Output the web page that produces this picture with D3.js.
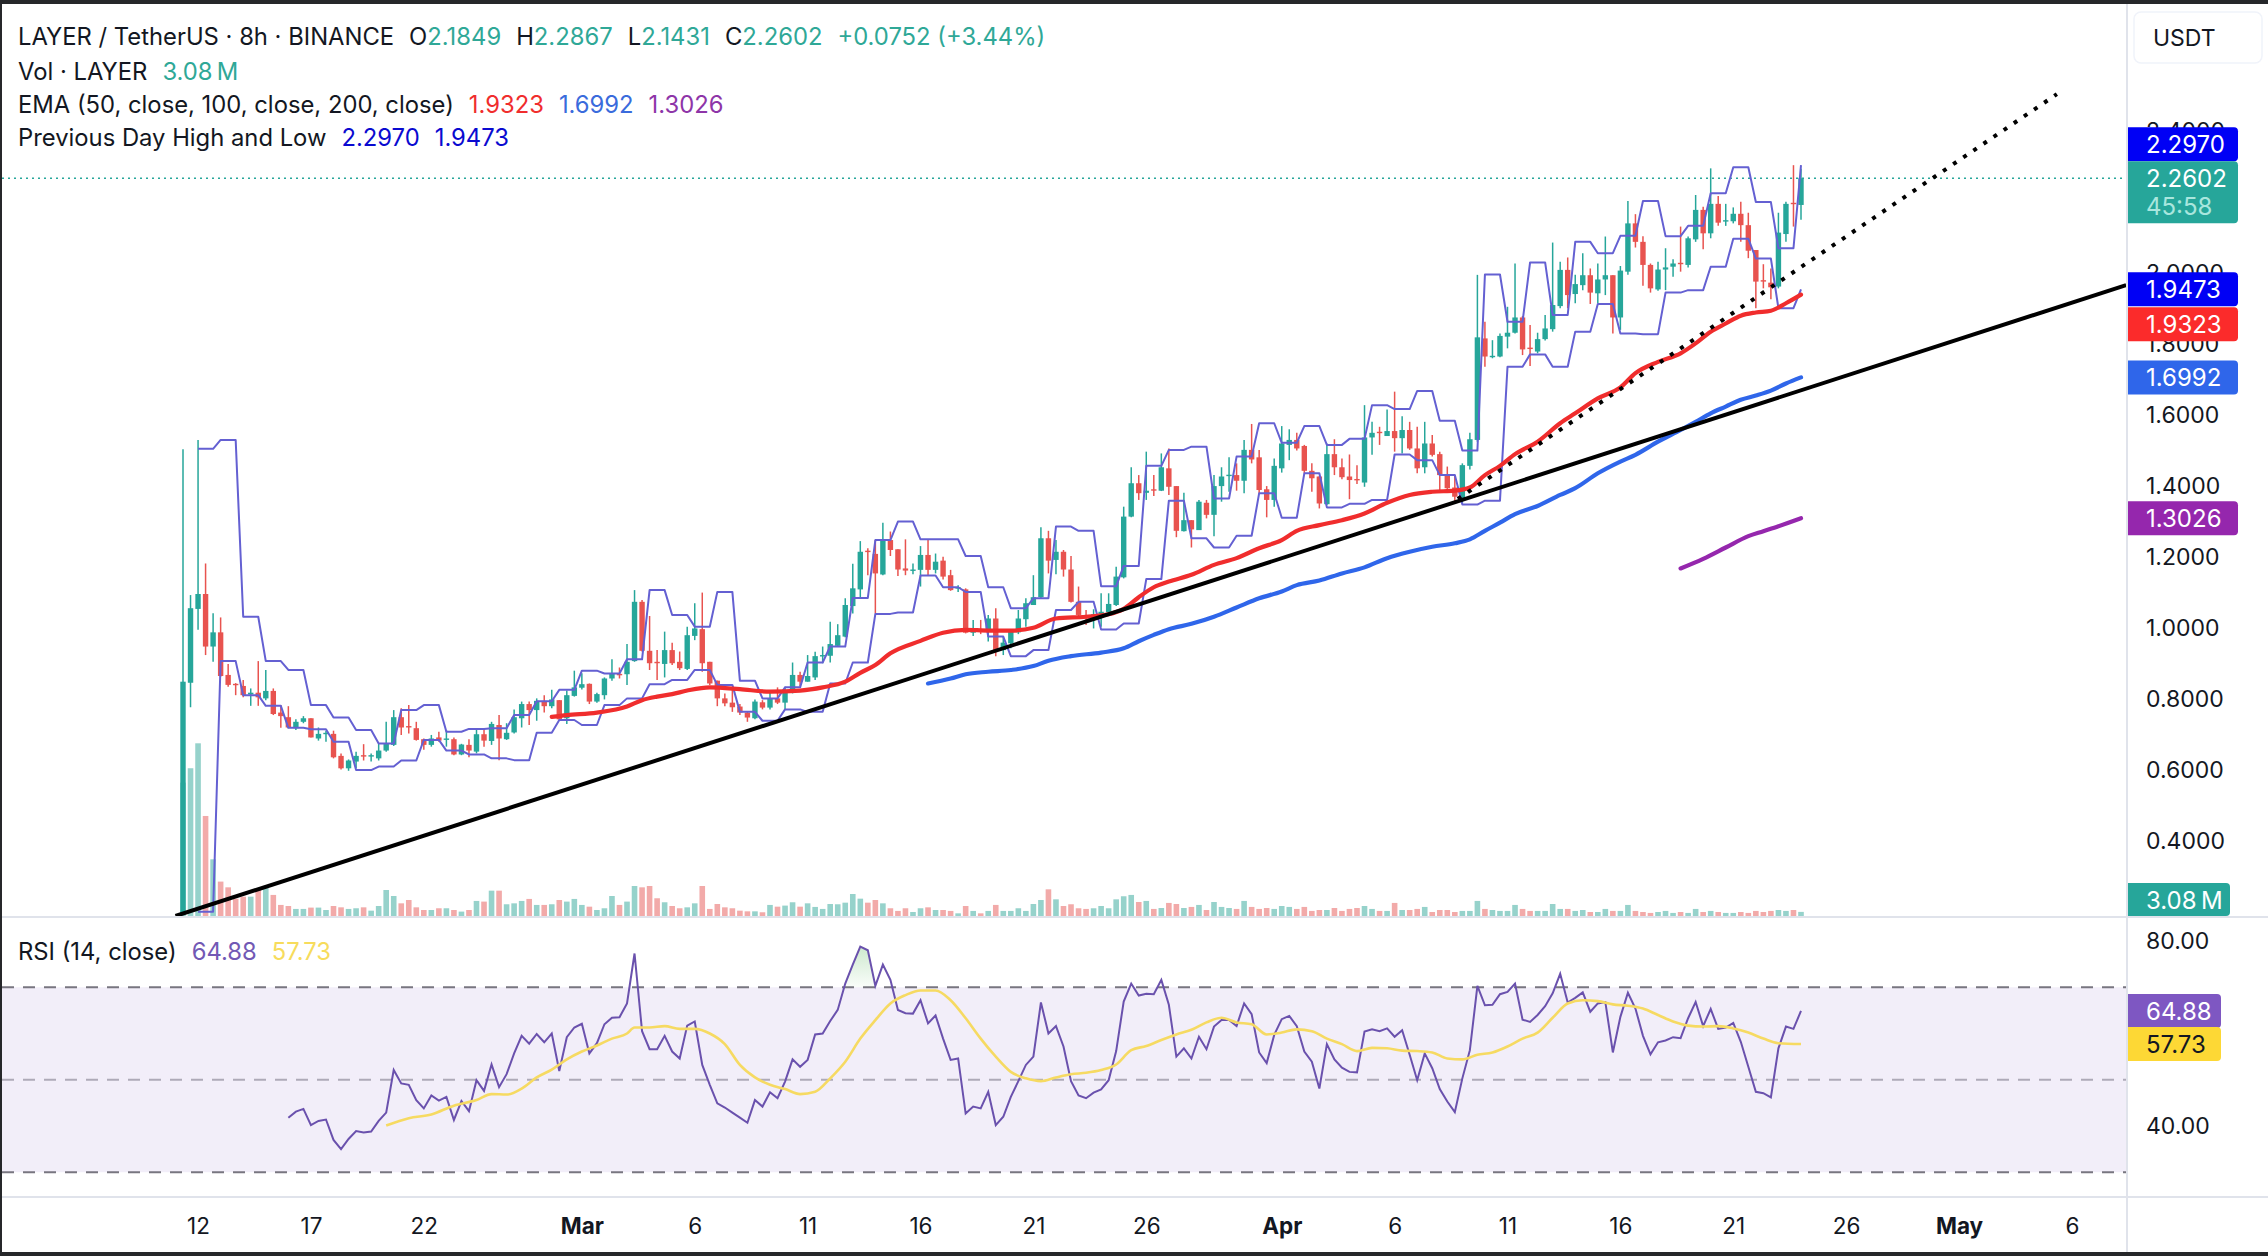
<!DOCTYPE html>
<html>
<head>
<meta charset="utf-8">
<title>LAYER / TetherUS</title>
<script src="https://cdn.jsdelivr.net/npm/d3@7/dist/d3.min.js"></script>
<style>
html, body { margin: 0; padding: 0; background: #fff; }
svg { display: block; }
text { font-family: Inter, "Noto Sans", sans-serif; fill: #131722; }
</style>
</head>
<body>
<div id="chart"></div>
<script>
// page size
var width = 2268,
    height = 1256;

// candles, 8h bars, index 0 is Feb 11 08:00
var opens = [
  .19, .839, 1.047, 1.089, .941, .981, .861, .836, .830, .806,
  .811, .795, .816, .755, .742, .711, .729, .739, .682, .696,
  .695, .633, .598, .617, .635, .631, .626, .648, .664, .742,
  .717, .711, .680, .664, .685, .680, .680, .637, .664, .645,
  .694, .675, .720, .680, .699, .739, .779, .762, .788, .773,
  .790, .739, .802, .825, .836, .786, .804, .851, .864, .863,
  .900, 1.067, .929, .898, .892, .931, .898, .878, .971, .990,
  .898, .845, .795, .783, .772, .755, .739, .784, .769, .795,
  .783, .814, .861, .842, .854, .913, .915, .943, .969, 1.055,
  1.102, 1.211, 1.202, 1.144, 1.241, 1.215, 1.161, 1.155, 1.157, 1.199,
  1.157, 1.183, 1.142, 1.104, 1.102, .980, .990, .983, 1.020, .931,
  .950, .981, 1.018, 1.058, 1.080, 1.246, 1.185, 1.208, 1.158, 1.067,
  1.030, 1.018, 1.025, 1.038, 1.058, 1.136, 1.307, 1.401, 1.374, 1.384,
  1.380, 1.443, 1.393, 1.266, 1.297, 1.269, 1.346, 1.312, 1.393, 1.423,
  1.424, 1.408, 1.495, 1.474, 1.384, 1.354, 1.443, 1.509, 1.523, 1.506,
  1.436, 1.420, 1.342, 1.483, 1.446, 1.420, 1.413, 1.403, 1.530, 1.546,
  1.534, 1.548, 1.528, 1.551, 1.499, 1.446, 1.513, 1.483, 1.427, 1.389,
  1.358, 1.450, 1.523, 1.809, 1.756, 1.758, 1.814, 1.825, 1.868, 1.783,
  1.772, 1.807, 1.835, 1.900, 2.002, 1.934, 1.959, 1.987, 1.936, 1.975,
  1.987, 1.868, 1.997, 2.133, 2.081, 2.016, 1.947, 2.003, 2.011, 2.022,
  2.016, 2.088, 2.171, 2.105, 2.188, 2.139, 2.139, 2.160, 2.128, 2.058,
  1.973, 1.966, 1.955, 2.103, 2.191, 2.1849
];
var highs = [
  1.497, 1.086, 1.523, 1.175, 1.035, 1.023, .892, .838, .847, .823,
  .900, .875, .823, .776, .773, .736, .745, .739, .713, .704,
  .704, .640, .623, .645, .666, .640, .668, .729, .762, .767,
  .776, .729, .682, .692, .701, .706, .685, .667, .680, .706,
  .711, .729, .748, .725, .764, .786, .786, .795, .804, .819,
  .790, .817, .873, .866, .837, .811, .854, .905, .882, .948,
  1.100, 1.072, 1.027, .931, .983, .952, .927, .997, 1.063, 1.093,
  .898, .845, .809, .823, .779, .757, .792, .790, .817, .826,
  .828, .896, .870, .917, .926, .941, 1.011, 1.004, 1.077, 1.174,
  1.238, 1.218, 1.241, 1.290, 1.265, 1.215, 1.243, 1.175, 1.224, 1.241,
  1.203, 1.194, 1.157, 1.114, 1.105, 1.016, 1.016, 1.030, 1.049, .969,
  .987, 1.044, 1.077, 1.142, 1.277, 1.267, 1.241, 1.213, 1.196, 1.110,
  1.044, 1.046, 1.091, 1.091, 1.166, 1.335, 1.446, 1.424, 1.490, 1.424,
  1.485, 1.499, 1.393, 1.374, 1.297, 1.354, 1.354, 1.424, 1.446, 1.474,
  1.457, 1.523, 1.568, 1.495, 1.393, 1.471, 1.562, 1.553, 1.543, 1.509,
  1.457, 1.421, 1.513, 1.525, 1.471, 1.482, 1.452, 1.621, 1.574, 1.560,
  1.609, 1.659, 1.590, 1.574, 1.560, 1.574, 1.537, 1.490, 1.448, 1.424,
  1.457, 1.543, 1.988, 1.856, 1.804, 1.823, 1.898, 2.020, 1.872, 1.847,
  1.825, 1.875, 2.079, 2.025, 2.037, 1.988, 2.049, 2.006, 2.020, 2.096,
  1.987, 2.013, 2.196, 2.159, 2.097, 2.020, 2.025, 2.063, 2.032, 2.124,
  2.096, 2.213, 2.180, 2.288, 2.210, 2.188, 2.178, 2.194, 2.163, 2.058,
  2.018, 2.006, 2.163, 2.194, 2.297, 2.2867
];
var lows = [
  .185, .770, .988, .917, .898, .856, .828, .804, .798, .774,
  .774, .790, .748, .712, .711, .706, .725, .685, .676, .673,
  .626, .595, .591, .598, .620, .617, .620, .645, .661, .692,
  .696, .676, .650, .659, .673, .659, .635, .635, .629, .640,
  .659, .664, .621, .678, .696, .713, .720, .732, .755, .767,
  .734, .723, .800, .820, .779, .783, .792, .845, .851, .833,
  .898, .927, .875, .847, .854, .889, .875, .875, .959, .870,
  .833, .773, .773, .757, .748, .729, .736, .764, .764, .779,
  .762, .809, .830, .842, .847, .894, .896, .942, .967, 1.034,
  1.077, 1.142, 1.034, 1.142, 1.196, 1.140, 1.142, 1.145, 1.110, 1.140,
  1.147, 1.130, 1.098, 1.095, .978, .971, .976, .955, .914, .917,
  .936, .976, .997, 1.058, 1.077, 1.147, 1.145, 1.138, 1.065, 1.020,
  1.002, .992, .997, 1.036, 1.055, 1.133, 1.305, 1.354, 1.354, 1.365,
  1.379, 1.368, 1.249, 1.265, 1.220, 1.269, 1.302, 1.252, 1.349, 1.377,
  1.380, 1.373, 1.457, 1.373, 1.305, 1.335, 1.431, 1.466, 1.493, 1.429,
  1.377, 1.330, 1.340, 1.424, 1.412, 1.356, 1.399, 1.391, 1.481, 1.509,
  1.534, 1.490, 1.485, 1.495, 1.429, 1.429, 1.476, 1.382, 1.377, 1.343,
  1.344, 1.440, 1.518, 1.729, 1.753, 1.756, 1.781, 1.823, 1.762, 1.731,
  1.767, 1.803, 1.828, 1.894, 1.894, 1.908, 1.945, 1.906, 1.908, 1.931,
  1.823, 1.833, 1.988, 2.065, 1.957, 1.938, 1.943, 1.945, 1.983, 1.997,
  2.009, 2.081, 2.060, 2.091, 2.126, 2.126, 2.133, 2.081, 2.035, 1.894,
  1.950, 1.919, 1.950, 2.081, 2.124, 2.1431
];
var closes = [
  .842, 1.049, 1.089, .941, .981, .858, .833, .833, .804, .811,
  .798, .816, .751, .745, .713, .729, .739, .685, .695, .698,
  .629, .598, .620, .633, .631, .635, .648, .667, .742, .713,
  .713, .678, .664, .682, .676, .682, .637, .665, .648, .694,
  .676, .723, .682, .698, .742, .779, .762, .788, .773, .792,
  .736, .804, .826, .835, .786, .807, .851, .864, .860, .898,
  1.067, .929, .894, .894, .931, .894, .880, .973, .992, .894,
  .837, .795, .781, .770, .755, .741, .786, .769, .795, .783,
  .817, .861, .842, .858, .914, .917, .948, .973, 1.058, 1.105,
  1.208, 1.207, 1.147, 1.241, 1.213, 1.158, 1.155, 1.158, 1.199, 1.157,
  1.180, 1.138, 1.100, 1.108, .980, .989, .988, 1.020, .929, .952,
  .983, 1.020, 1.063, 1.080, 1.246, 1.183, 1.208, 1.158, 1.067, 1.030,
  1.023, 1.032, 1.039, 1.061, 1.138, 1.307, 1.401, 1.373, 1.380, 1.382,
  1.446, 1.391, 1.267, 1.297, 1.271, 1.349, 1.312, 1.393, 1.420, 1.425,
  1.408, 1.495, 1.468, 1.382, 1.354, 1.450, 1.513, 1.523, 1.499, 1.436,
  1.415, 1.344, 1.483, 1.446, 1.418, 1.410, 1.410, 1.530, 1.543, 1.543,
  1.548, 1.528, 1.551, 1.499, 1.443, 1.513, 1.481, 1.424, 1.387, 1.363,
  1.452, 1.525, 1.812, 1.758, 1.760, 1.816, 1.825, 1.868, 1.778, 1.781,
  1.807, 1.837, 1.903, 2.002, 1.931, 1.962, 1.987, 1.938, 1.975, 1.987,
  1.868, 2.000, 2.133, 2.081, 2.016, 1.950, 2.003, 2.009, 2.020, 2.018,
  2.091, 2.171, 2.105, 2.188, 2.135, 2.142, 2.160, 2.128, 2.056, 1.969,
  1.969, 1.953, 2.107, 2.188, 2.188, 2.2602
];
// volume in millions
var volumes = [
  100, 110.8, 129.5, 75, 42.5, 25.8, 21.5, 13, 14.5, 14.5,
  20.8, 21.5, 15.8, 8.3, 7.5, 5.3, 5.3, 6.3, 6.3, 4.5,
  7.5, 6.5, 5.3, 5.8, 6.5, 4, 7.5, 19.5, 15, 9.5,
  12, 6.5, 4.5, 4.5, 5.8, 5.8, 4.5, 3.3, 4.5, 11.3,
  10.8, 19, 19, 8.8, 9.5, 11.3, 12.8, 8.3, 8.3, 8.8,
  12, 10.8, 12.8, 8.3, 7, 4.5, 5.8, 15, 8.3, 10.8,
  22.5, 21.5, 22.5, 13.3, 10.3, 7.5, 5.8, 6.5, 9.5, 22.5,
  5.3, 9, 6.5, 5.8, 4, 3.5, 3.5, 2.8, 8.3, 7,
  7.8, 10.3, 7, 9.5, 6.8, 5.3, 9, 8.8, 10, 16.5,
  13, 10, 12, 9.5, 5.8, 3.8, 5.8, 3, 5.8, 6.5,
  4.5, 4.5, 3.8, 2, 7.5, 3.8, 2, 3.8, 8.3, 3.8,
  3.8, 5.8, 3.8, 9, 12, 20, 12.5, 7.5, 8.8, 5.8,
  5.3, 5.8, 7.5, 5.8, 12.5, 14.8, 15.8, 10.5, 11.3, 5.3,
  6, 9.8, 9, 6, 6.8, 8.3, 4.5, 10.5, 6.8, 6,
  5.3, 11.3, 6.8, 5.3, 6, 5.3, 7.5, 6.8, 5.3, 6.8,
  3.8, 4.5, 4.5, 6, 3.8, 5.3, 6, 7.5, 5.3, 3.8,
  3.8, 9.8, 4.5, 4.5, 5.3, 6.8, 3, 4.5, 4.5, 3,
  3.8, 3.8, 11.3, 5.3, 4.5, 3.8, 3.8, 8.3, 5.3, 3.8,
  3.8, 3.8, 9, 5.3, 5.3, 3.8, 4.5, 3, 3, 5.3,
  3.8, 3.8, 8.3, 3.8, 3, 2.3, 3, 3.8, 2.3, 3,
  2.3, 5.3, 3, 3.8, 3, 2.3, 2.3, 3, 2.3, 3.8,
  3, 3.8, 4.5, 3.8, 4.5, 3.08
];

// previous day high and low, one level per day, a day is 3 bars, first day starts at bar 2
var pdStartBar = 2;
var pdHighs = [
  1.498, 1.523, 1.025, .900, .875, .776, .741, .706, .668, .762,
  .776, .701, .709, .711, .748, .787, .819, .873, .865, .905,
  1.100, 1.030, .997, 1.095, .845, .795, .826, .896, .941, 1.078,
  1.241, 1.293, 1.243, 1.243, 1.196, 1.108, 1.049, 1.077, 1.279, 1.267,
  1.111, 1.168, 1.450, 1.495, 1.504, 1.358, 1.476, 1.570, 1.515, 1.562,
  1.509, 1.526, 1.621, 1.610, 1.661, 1.577, 1.493, 1.989, 1.856, 2.023,
  1.875, 2.081, 2.049, 2.098, 2.196, 2.097, 2.126, 2.218, 2.291, 2.193,
  2.063, 2.2970
];
var pdLows = [
  .194, .900, .804, .774, .712, .708, .673, .593, .603, .620,
  .678, .648, .637, .626, .621, .698, .734, .720, .776, .795,
  .835, .847, .875, .833, .757, .732, .764, .757, .837, .896,
  1.033, 1.037, 1.141, 1.108, 1.095, .969, .914, .931, 1.044, 1.067,
  .989, 1.006, 1.131, 1.352, 1.246, 1.220, 1.253, 1.373, 1.304, 1.429,
  1.333, 1.343, 1.354, 1.482, 1.466, 1.424, 1.341, 1.352, 1.729, 1.764,
  1.729, 1.828, 1.906, 1.823, 1.821, 1.938, 1.945, 2.011, 2.090, 2.034,
  1.894, 1.9473
];

var ema50Bars = [49, 51, 55, 59, 61, 63, 65, 67, 70, 74, 78, 82, 85, 88, 90, 92, 94, 98, 101, 104, 107, 110, 113, 116, 120, 123, 125, 127, 129, 131, 134, 137, 140, 143, 146, 148, 151, 154, 157, 160, 163, 166, 169, 171, 173, 175, 177, 180, 183, 185, 188, 191, 193, 196, 199, 201, 203, 205, 207, 209, 211, 213, 215];
var ema50Values = [.743, .748, .755, .772, .790, .800, .807, .817, .826, .821, .814, .817, .826, .842, .867, .889, .922, .957, .980, .988, .986, .986, .994, 1.020, 1.025, 1.032, 1.047, 1.080, 1.108, 1.124, 1.143, 1.171, 1.190, 1.218, 1.241, 1.267, 1.283, 1.297, 1.316, 1.346, 1.368, 1.377, 1.380, 1.389, 1.424, 1.450, 1.483, 1.518, 1.570, 1.598, 1.640, 1.671, 1.711, 1.743, 1.767, 1.795, 1.828, 1.851, 1.873, 1.882, 1.887, 1.908, 1.9323];
var ema100Bars = [99, 102, 104, 107, 110, 113, 115, 118, 122, 125, 127, 129, 131, 134, 137, 140, 143, 146, 148, 151, 154, 157, 160, 163, 166, 169, 171, 173, 175, 177, 180, 183, 185, 188, 191, 193, 196, 199, 201, 203, 205, 207, 209, 211, 213, 215];
var ema100Values = [.837, .851, .863, .870, .875, .886, .901, .914, .924, .936, .956, .974, .990, 1.005, 1.025, 1.051, 1.077, 1.096, 1.114, 1.127, 1.147, 1.164, 1.190, 1.208, 1.222, 1.232, 1.243, 1.267, 1.290, 1.314, 1.337, 1.368, 1.387, 1.429, 1.462, 1.481, 1.518, 1.551, 1.574, 1.598, 1.617, 1.636, 1.648, 1.662, 1.682, 1.6992];
var ema200Bars = [199, 202, 205, 208, 210, 212, 215];
var ema200Values = [1.161, 1.188, 1.220, 1.252, 1.266, 1.280, 1.3026];

// the two hand drawn lines, solid and dotted
var trendBars = [-1, 258.2];
var trendPrices = [.182, 1.959];
var dottedBars = [169.4, 249];
var dottedPrices = [1.357, 2.497];

// RSI from bar 14 on
var rsiStartBar = 14;
var rsiValues = [
  41.8, 43.1, 43.7, 40.2, 41.1, 41.4, 37.0, 35.0, 37.2, 38.9,
  38.6, 38.8, 41.1, 42.9, 52.1, 49.2, 48.9, 45.6, 43.8, 46.6,
  45.5, 46.3, 41.3, 45.4, 43.2, 49.9, 47.6, 53.3, 48.4, 51.2,
  55.7, 59.5, 57.8, 59.9, 58.1, 60.0, 51.9, 59.2, 61.3, 62.1,
  55.7, 57.9, 62.0, 63.4, 63.5, 66.5, 77.3, 60.5, 56.6, 56.6,
  59.5, 56.1, 54.6, 61.7, 62.6, 53.2, 48.9, 44.9, 44.0, 42.9,
  41.8, 40.7, 45.6, 44.2, 47.3, 46.0, 49.6, 54.4, 52.8, 54.3,
  59.8, 60.0, 62.7, 65.1, 70.8, 74.9, 78.8, 78.0, 70.3, 74.9,
  71.6, 65.1, 64.4, 64.3, 67.2, 62.2, 63.9, 58.9, 54.3, 54.6,
  42.7, 44.2, 43.8, 47.4, 40.2, 42.0, 46.3, 49.7, 53.2, 55.0,
  66.7, 60.0, 61.6, 57.2, 49.7, 46.6, 46.0, 47.2, 47.9, 49.9,
  56.2, 66.9, 70.8, 68.2, 68.6, 68.5, 71.6, 66.2, 55.0, 56.8,
  54.6, 59.3, 56.6, 61.5, 62.9, 62.9, 61.6, 66.5, 64.2, 55.9,
  53.6, 59.7, 63.1, 63.8, 61.6, 56.1, 53.9, 48.1, 57.7, 54.4,
  52.6, 51.7, 51.6, 60.4, 60.9, 60.5, 61.1, 59.3, 60.7, 55.4,
  49.9, 55.7, 52.5, 48.0, 45.3, 43.0, 50.3, 56.4, 70.3, 66.1,
  66.2, 68.5, 69.0, 70.8, 63.0, 62.5, 64.0, 65.9, 68.7, 72.9,
  66.7, 67.7, 68.9, 64.7, 66.5, 66.8, 55.9, 63.6, 68.8, 65.4,
  59.5, 55.5, 58.1, 58.5, 59.2, 59.0, 63.3, 66.8, 61.6, 65.3,
  61.0, 61.3, 62.3, 58.2, 52.8, 47.4, 47.1, 46.2, 56.8, 61.5,
  61.0, 64.88
];
var rsiMaBars = [27, 30, 33, 36, 39, 41, 43, 45, 47, 49, 51, 53, 55, 57, 59, 60, 62, 64, 66, 68, 70, 72, 74, 76, 78, 80, 82, 84, 86, 88, 90, 92, 94, 96, 98, 100, 102, 104, 106, 108, 110, 112, 114, 116, 118, 120, 122, 124, 126, 128, 130, 132, 134, 136, 138, 140, 142, 144, 146, 148, 150, 152, 154, 156, 158, 160, 162, 164, 166, 168, 170, 172, 174, 176, 178, 180, 182, 184, 186, 188, 190, 192, 194, 196, 198, 200, 202, 204, 206, 208, 210, 212, 215];
var rsiMaValues = [40.1, 41.7, 42.5, 44.4, 45.6, 46.9, 46.8, 48.1, 50.5, 52.2, 54.4, 56.1, 57.4, 58.9, 60.0, 61.3, 61.3, 61.6, 61.0, 61.0, 60.0, 57.7, 53.2, 50.5, 48.9, 48.0, 46.9, 47.4, 50.3, 53.9, 58.9, 62.9, 66.5, 68.3, 69.3, 69.3, 67.2, 63.3, 58.9, 55.0, 51.7, 50.3, 49.7, 50.5, 51.2, 51.5, 52.1, 53.3, 56.4, 57.3, 58.6, 59.8, 60.8, 62.4, 63.4, 62.4, 62.0, 59.8, 60.2, 60.9, 60.5, 58.9, 57.7, 56.2, 56.9, 56.8, 56.3, 56.2, 55.9, 54.6, 54.4, 55.4, 55.9, 57.2, 58.9, 60.2, 63.4, 66.5, 67.2, 67.0, 66.3, 66.0, 65.4, 64.0, 62.6, 61.7, 61.5, 61.6, 61.1, 60.2, 58.9, 57.9, 57.73];
var rsiBands = [70, 50, 30];

// axis ticks, 2.2000 sits fully behind the last price label in the picture so it is left out
var priceTicks = [.4, .6, .8, 1, 1.2, 1.4, 1.6, 1.8, 2, 2.4];
var rsiTicks = [40, 80];
var timeBars = [2, 17, 32, 53, 68, 83, 98, 113, 128, 146, 161, 176, 191, 206, 221, 236, 251];
var timeLabels = ["12", "17", "22", "Mar", "6", "11", "16", "21", "26", "Apr", "6", "11", "16", "21", "26", "May", "6"];
var monthLabels = ["Mar", "Apr", "May"];

// colours
var green = "#26a69a",
    red = "#e8534f",
    greenVol = "#96d2cb",
    redVol = "#f2aaa9",
    pdColor = "#6460d2",
    ema50Color = "#f02d2d",
    ema100Color = "#2f66ea",
    ema200Color = "#9527ad",
    rsiColor = "#6a51ad",
    rsiMaColor = "#f6da62",
    textColor = "#131722",
    pdBlue = "#0000f5";

// layout, change these up here
var paneLeft = 2,
    paneRight = 2127,
    mainTop = 4,
    mainBottom = 916,
    rsiBottom = 1197,
    bottomEdge = 1252,
    candleWidth = 5.4,
    barWidth = 5.6,
    legendFont = 23.8,
    labelFont = 24;

var xScale = d3.scaleLinear().domain([0, 215]).range([183, 1801]);
var yScale = d3.scaleLinear().domain([.4, 2.4]).range([838.6, 128.6]);
var volScale = d3.scaleLinear().domain([0, 129.5]).range([mainBottom, mainBottom - 172.7]);
var rsiScale = d3.scaleLinear().domain([40, 80]).range([1126, 941]);

var svg = d3.select("#chart").append("svg")
    .attr("width", width)
    .attr("height", height);

svg.append("rect").attr("width", width).attr("height", height).attr("fill", "#fff");

var defs = svg.append("defs");
defs.append("clipPath").attr("id", "mainClip").append("rect")
    .attr("x", paneLeft).attr("y", mainTop)
    .attr("width", paneRight - paneLeft).attr("height", mainBottom - mainTop);
var grad = defs.append("linearGradient").attr("id", "obFill")
    .attr("x1", 0).attr("y1", 0).attr("x2", 0).attr("y2", 1);
grad.append("stop").attr("offset", "0%").attr("stop-color", "#4caf50").attr("stop-opacity", .28);
grad.append("stop").attr("offset", "100%").attr("stop-color", "#4caf50").attr("stop-opacity", .03);

var bars = d3.range(opens.length).map(function(i) {
    return {i: i, o: opens[i], h: highs[i], l: lows[i], c: closes[i], v: volumes[i], up: closes[i] >= opens[i]};
});

/* Main pane */
var main = svg.append("g").attr("clip-path", "url(#mainClip)");

// last price line
main.append("line")
    .attr("x1", paneLeft).attr("x2", paneRight)
    .attr("y1", yScale(closes[closes.length - 1])).attr("y2", yScale(closes[closes.length - 1]))
    .attr("stroke", green).attr("stroke-width", 1.6).attr("stroke-dasharray", "2 4");

// volume
main.append("g").selectAll("rect")
    .data(bars)
    .enter()
    .append("rect")
    .attr("x", function(d) { return xScale(d.i) - barWidth / 2; })
    .attr("width", barWidth)
    .attr("y", function(d) { return volScale(d.v); })
    .attr("height", function(d) { return mainBottom - volScale(d.v); })
    .attr("fill", function(d) { return d.up ? greenVol : redVol; });

// candles
var candle = main.append("g").selectAll("g")
    .data(bars)
    .enter()
    .append("g")
    .attr("fill", function(d) { return d.up ? green : red; })
    .attr("stroke", function(d) { return d.up ? green : red; });
candle.append("line")
    .attr("x1", function(d) { return xScale(d.i); })
    .attr("x2", function(d) { return xScale(d.i); })
    .attr("y1", function(d) { return yScale(d.h); })
    .attr("y2", function(d) { return yScale(d.l); })
    .attr("stroke-width", 1.5);
candle.append("rect")
    .attr("stroke", "none")
    .attr("x", function(d) { return xScale(d.i) - candleWidth / 2; })
    .attr("width", candleWidth)
    .attr("y", function(d) { return yScale(Math.max(d.o, d.c)); })
    .attr("height", function(d) { return Math.max(1.4, Math.abs(yScale(d.o) - yScale(d.c))); });

// previous day high and low
function pdLine(levels) {
    var line = d3.line()
        .x(function(i) { return xScale(i); })
        .y(function(i) { return yScale(levels[Math.floor((i - pdStartBar) / 3)]); });
    main.append("path")
        .attr("d", line(d3.range(pdStartBar, opens.length)))
        .attr("fill", "none")
        .attr("stroke", pdColor)
        .attr("stroke-width", 2)
        .attr("stroke-linejoin", "round");
}
pdLine(pdHighs);
pdLine(pdLows);

// EMAs
function emaLine(barList, values, color) {
    var line = d3.line()
        .curve(d3.curveMonotoneX)
        .x(function(d, i) { return xScale(barList[i]); })
        .y(function(d) { return yScale(d); });
    main.append("path")
        .attr("d", line(values))
        .attr("fill", "none")
        .attr("stroke", color)
        .attr("stroke-width", 4.2)
        .attr("stroke-linecap", "round");
}
emaLine(ema50Bars, ema50Values, ema50Color);
emaLine(ema100Bars, ema100Values, ema100Color);
emaLine(ema200Bars, ema200Values, ema200Color);

// drawn trend lines
var straight = d3.line()
    .x(function(d) { return xScale(d[0]); })
    .y(function(d) { return yScale(d[1]); });
main.append("path")
    .attr("d", straight(d3.zip(trendBars, trendPrices)))
    .attr("fill", "none").attr("stroke", "#000").attr("stroke-width", 4);
main.append("path")
    .attr("d", straight(d3.zip(dottedBars, dottedPrices)))
    .attr("fill", "none").attr("stroke", "#000").attr("stroke-width", 4)
    .attr("stroke-dasharray", "4 8.2");

/* RSI pane */
var rsiPane = svg.append("g");
rsiPane.append("rect")
    .attr("x", paneLeft).attr("width", paneRight - paneLeft)
    .attr("y", rsiScale(rsiBands[0]))
    .attr("height", rsiScale(rsiBands[2]) - rsiScale(rsiBands[0]))
    .attr("fill", "#f2eef9");

rsiPane.selectAll("line.band")
    .data(rsiBands)
    .enter()
    .append("line")
    .attr("class", "band")
    .attr("x1", paneLeft).attr("x2", paneRight)
    .attr("y1", function(d) { return rsiScale(d); })
    .attr("y2", function(d) { return rsiScale(d); })
    .attr("stroke", function(d) { return d == 50 ? "#aeaab8" : "#787680"; })
    .attr("stroke-width", 2)
    .attr("stroke-dasharray", "12 9");

var rsiPoints = rsiValues.map(function(v, i) { return {i: i + rsiStartBar, v: v}; });

// overbought fill, only the March hump shows it
var obPoints = rsiPoints.filter(function(d) { return d.i >= 88 && d.i <= 92; });
var obArea = d3.area()
    .x(function(d) { return xScale(d.i); })
    .y0(rsiScale(70))
    .y1(function(d) { return rsiScale(Math.max(d.v, 70)); });
rsiPane.append("path").attr("d", obArea(obPoints)).attr("fill", "url(#obFill)");

var rsiLine = d3.line()
    .x(function(d) { return xScale(d.i); })
    .y(function(d) { return rsiScale(d.v); });
var rsiMaLine = d3.line()
    .curve(d3.curveMonotoneX)
    .x(function(d, i) { return xScale(rsiMaBars[i]); })
    .y(function(d) { return rsiScale(d); });
rsiPane.append("path").attr("d", rsiLine(rsiPoints))
    .attr("fill", "none").attr("stroke", rsiColor).attr("stroke-width", 2);
rsiPane.append("path").attr("d", rsiMaLine(rsiMaValues))
    .attr("fill", "none").attr("stroke", rsiMaColor).attr("stroke-width", 2.6);

/* Frame */
var frameColor = "#e0e3eb";
svg.append("line").attr("x1", 0).attr("x2", width).attr("y1", mainBottom + 1).attr("y2", mainBottom + 1)
    .attr("stroke", frameColor).attr("stroke-width", 2);
svg.append("line").attr("x1", 0).attr("x2", width).attr("y1", rsiBottom).attr("y2", rsiBottom)
    .attr("stroke", frameColor).attr("stroke-width", 2);
svg.append("line").attr("x1", paneRight).attr("x2", paneRight).attr("y1", mainTop).attr("y2", bottomEdge)
    .attr("stroke", frameColor).attr("stroke-width", 2);
svg.append("rect").attr("width", width).attr("height", mainTop).attr("fill", "#26272a");
svg.append("rect").attr("y", bottomEdge).attr("width", width).attr("height", height - bottomEdge).attr("fill", "#26272a");
svg.append("rect").attr("width", paneLeft).attr("height", height).attr("fill", "#26272a");

/* Axes */
function styleAxis(g, size) {
    g.select(".domain").remove();
    g.selectAll("text")
        .attr("font-size", size)
        .style("font-family", "Inter, sans-serif")
        .attr("fill", textColor)
        .attr("text-anchor", g.attr("data-anchor") || "middle");
}
var priceAxis = svg.append("g")
    .attr("data-anchor", "start")
    .attr("transform", "translate(" + paneRight + ",0)")
    .call(d3.axisRight(yScale).tickValues(priceTicks).tickFormat(d3.format(".4f")).tickSize(0).tickPadding(19));
styleAxis(priceAxis, 23);
priceAxis.selectAll("text").attr("dy", ".42em");
var rsiAxis = svg.append("g")
    .attr("data-anchor", "start")
    .attr("transform", "translate(" + paneRight + ",0)")
    .call(d3.axisRight(rsiScale).tickValues(rsiTicks).tickFormat(d3.format(".2f")).tickSize(0).tickPadding(19));
styleAxis(rsiAxis, 23);
var timeAxis = svg.append("g")
    .attr("transform", "translate(0," + rsiBottom + ")")
    .call(d3.axisBottom(xScale).tickValues(timeBars)
        .tickFormat(function(d, i) { return timeLabels[i]; })
        .tickSize(0).tickPadding(21));
styleAxis(timeAxis, 22.5);
timeAxis.selectAll("text")
    .attr("font-weight", function() { return monthLabels.indexOf(this.textContent) >= 0 ? 700 : 400; });

/* Price labels on the axis */
function labelBox(top, h, bg, w) {
    var l = paneRight + 1, r = paneRight + (w || 111), b = top + h, rad = 4;
    svg.append("path")
        .attr("d", "M" + l + "," + top + "H" + (r - rad) + "Q" + r + "," + top + " " + r + "," + (top + rad)
            + "V" + (b - rad) + "Q" + r + "," + b + " " + (r - rad) + "," + b + "H" + l + "Z")
        .attr("fill", bg);
}
function labelText(txt, y, color) {
    svg.append("text").attr("x", paneRight + 19).attr("y", y)
        .attr("dy", ".36em").attr("font-size", labelFont)
        .style("fill", color).text(txt);
}
function axisLabel(yCenter, txt, bg, fg, w) {
    labelBox(yCenter - 17, 34, bg, w);
    labelText(txt, yCenter, fg || "#fff");
}
var f4 = d3.format(".4f");
var lastClose = closes[closes.length - 1];
var lastRsi = rsiValues[rsiValues.length - 1];
var lastRsiMa = rsiMaValues[rsiMaValues.length - 1];

axisLabel(yScale(pdHighs[pdHighs.length - 1]) - 21, f4(pdHighs[pdHighs.length - 1]), pdBlue);
labelBox(yScale(lastClose) - 17, 62, green);
labelText(f4(lastClose), yScale(lastClose), "#fff");
labelText("45:58", yScale(lastClose) + 28, "#a9e6de");
axisLabel(yScale(pdLows[pdLows.length - 1]), f4(pdLows[pdLows.length - 1]), pdBlue);
axisLabel(yScale(ema50Values[ema50Values.length - 1]) + 29.5, f4(ema50Values[ema50Values.length - 1]), "#fb2b2b");
axisLabel(yScale(ema100Values[ema100Values.length - 1]), f4(ema100Values[ema100Values.length - 1]), ema100Color);
axisLabel(yScale(ema200Values[ema200Values.length - 1]), f4(ema200Values[ema200Values.length - 1]), ema200Color);
labelBox(mainBottom - 33, 33, green, 103);
labelText("3.08\u2009M", mainBottom - 16, "#fff");
axisLabel(rsiScale(lastRsi), d3.format(".2f")(lastRsi), "#7e57c2", "#fff", 94);
axisLabel(rsiScale(lastRsiMa), d3.format(".2f")(lastRsiMa), "#fdd835", "#131722", 94);

// USDT button
svg.append("rect").attr("x", 2134).attr("y", 12).attr("width", 128).attr("height", 51).attr("rx", 7)
    .attr("fill", "#fff").attr("stroke", "#f0f3fa").attr("stroke-width", 1.5);
svg.append("text").attr("x", 2153).attr("y", 37.5).attr("dy", ".36em").attr("font-size", 23).text("USDT");

/* Legend, each line is a list of [text, colour] runs */
var tealText = "#2fa897";
var legendLines = [
    {y: 36, runs: [["LAYER / TetherUS · 8h · BINANCE", textColor], ["O", textColor, 15], ["2.1849", tealText], ["H", textColor, 15], ["2.2867", tealText], ["L", textColor, 15], ["2.1431", tealText], ["C", textColor, 15], ["2.2602", tealText], ["+0.0752 (+3.44%)", tealText, 15]]},
    {y: 71, runs: [["Vol · LAYER", textColor], ["3.08\u2009M", tealText, 15]]},
    {y: 104, runs: [["EMA (50, close, 100, close, 200, close)", textColor], ["1.9323", ema50Color, 15], ["1.6992", "#3a6bdc", 15], ["1.3026", "#8e35a8", 15]]},
    {y: 137, runs: [["Previous Day High and Low", textColor], ["2.2970", "#0a0ad0", 15], ["1.9473", "#0a0ad0", 15]]},
    {y: 951, runs: [["RSI (14, close)", textColor], ["64.88", "#7259b5", 15], ["57.73", "#f7dc5c", 15]]}
];
legendLines.forEach(function(ln) {
    var t = svg.append("text").attr("x", 18).attr("y", ln.y).attr("dy", ".36em").attr("font-size", legendFont);
    ln.runs.forEach(function(r) {
        t.append("tspan").attr("dx", r[2] || 0).style("fill", r[1]).text(r[0]);
    });
});
</script>
</body>
</html>
